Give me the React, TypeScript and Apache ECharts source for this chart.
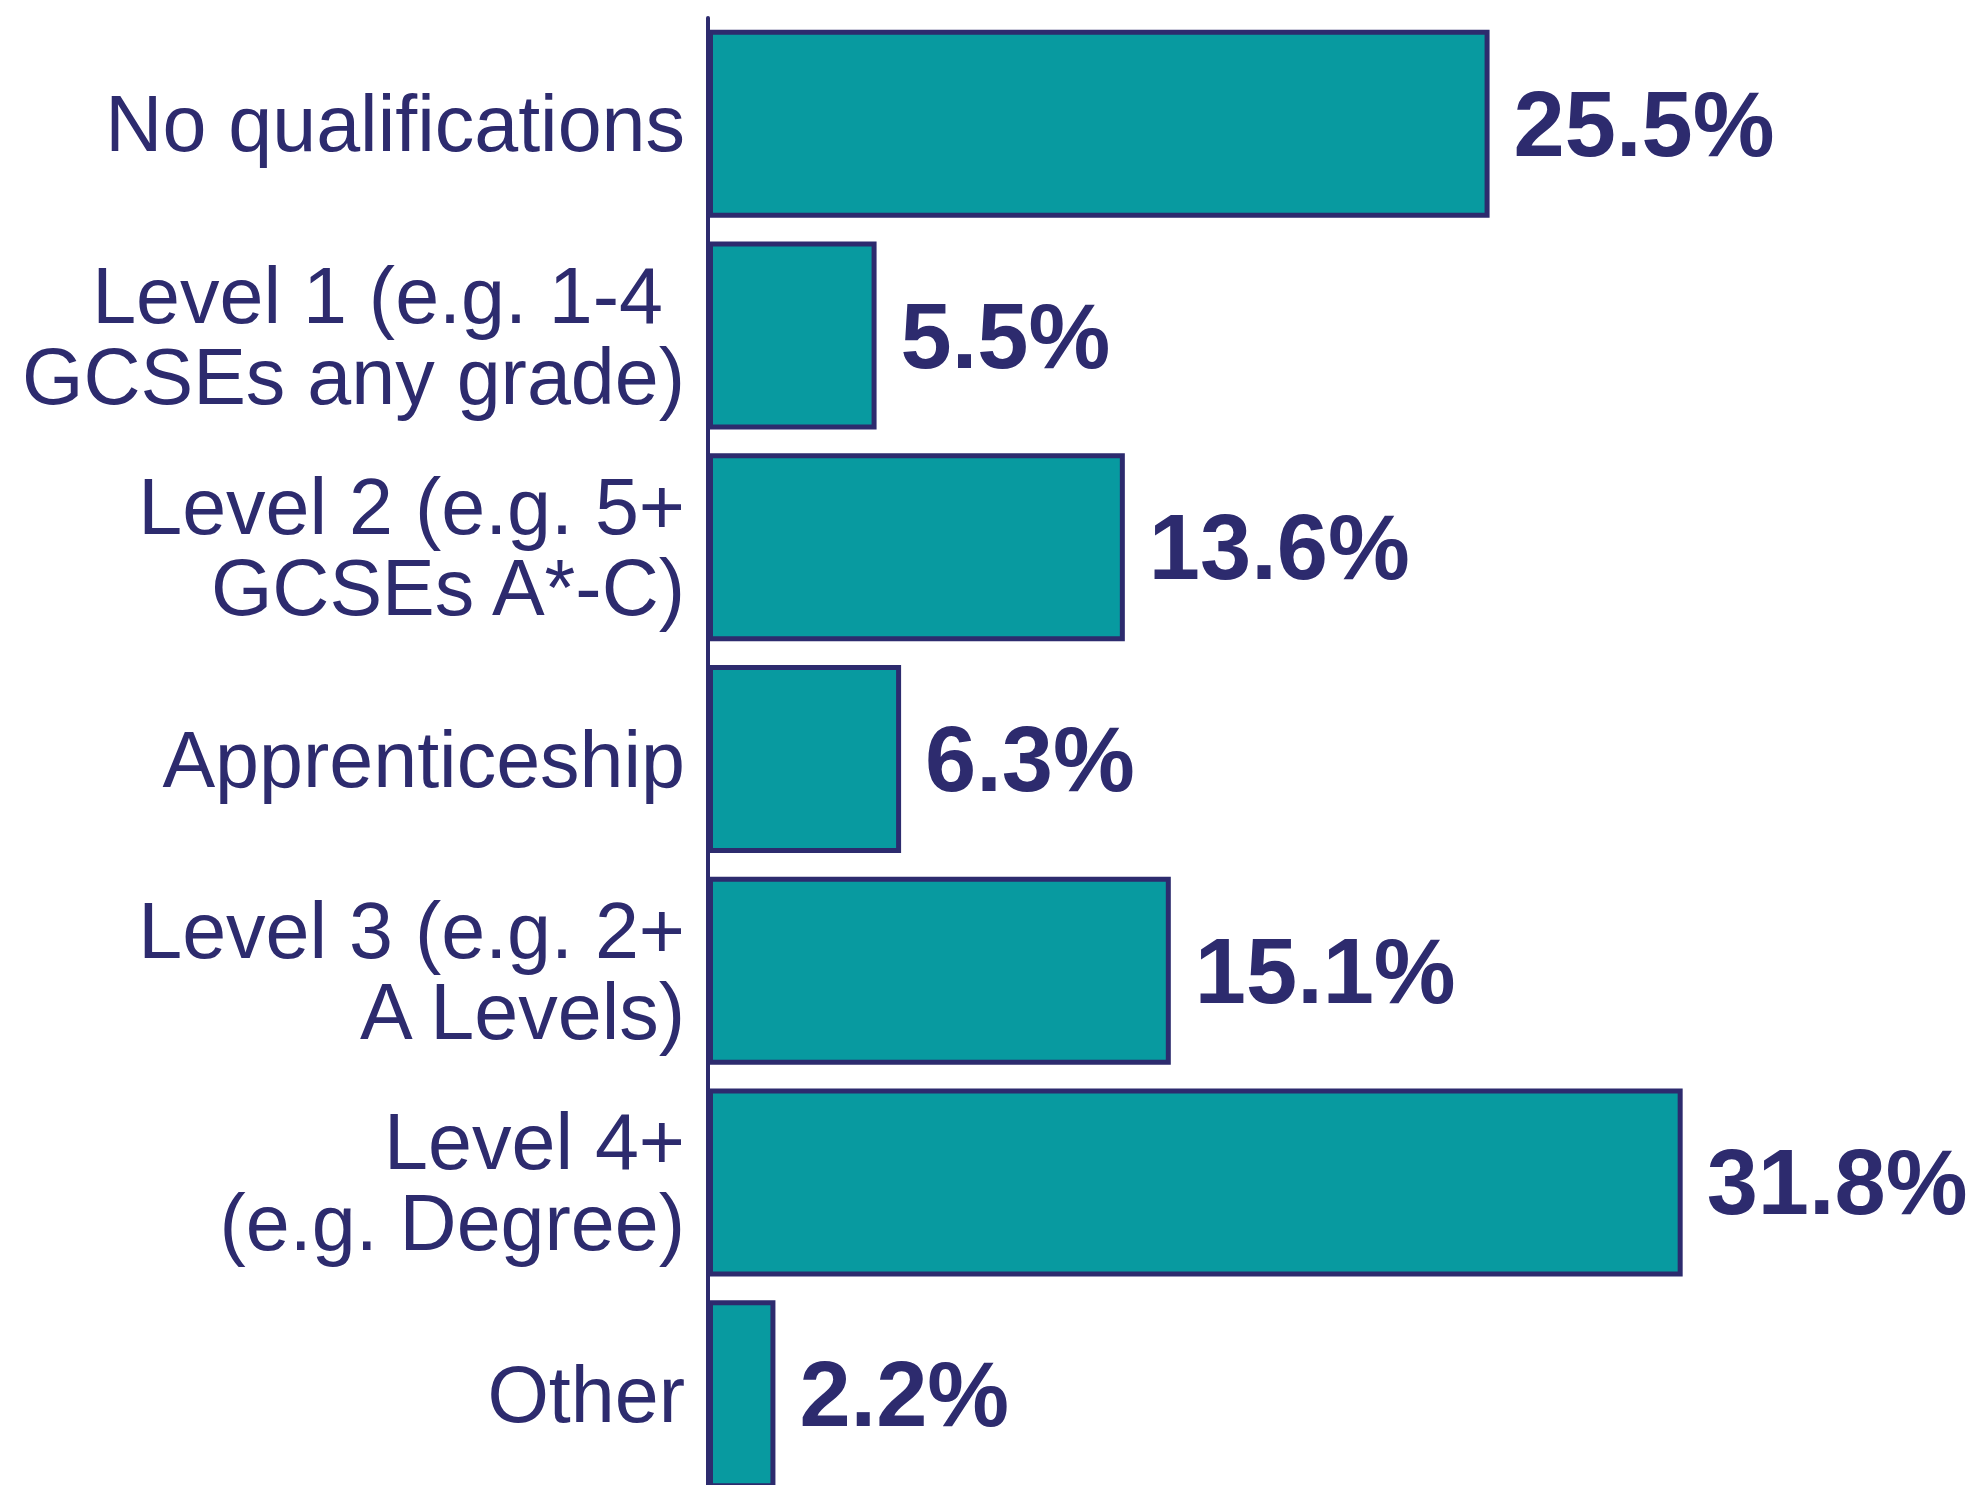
import React, { useEffect, useRef } from "react";
import * as echarts from "echarts";

const categories = [
  "No qualifications",
  "Level 1 (e.g. 1-4 \nGCSEs any grade)",
  "Level 2 (e.g. 5+\nGCSEs A*-C)",
  "Apprenticeship",
  "Level 3 (e.g. 2+\nA Levels)",
  "Level 4+\n(e.g. Degree)",
  "Other",
];
const values = [25.5, 5.5, 13.6, 6.3, 15.1, 31.8, 2.2];

const NAVY = "#2D2B6E";
const TEAL = "#089AA0";

export default function App() {
  const ref = useRef<HTMLDivElement>(null);
  useEffect(() => {
    document.body.style.margin = "0";
    document.body.style.overflow = "hidden";
    if (!ref.current) return;
    const chart = echarts.init(ref.current, undefined, { renderer: "svg" });
    chart.setOption({
      animation: false,
      backgroundColor: "#ffffff",
      grid: { left: 708, right: 45, top: 18, bottom: 0, containLabel: false },
      xAxis: {
        type: "value",
        min: 0,
        max: 40,
        show: false,
      },
      yAxis: {
        type: "category",
        data: categories,
        inverse: true,
        axisTick: { show: false },
        axisLine: { show: true, lineStyle: { color: NAVY, width: 4 } },
        splitLine: { show: false },
        axisLabel: {
          color: NAVY,
          fontFamily: "Liberation Sans, Arial, sans-serif",
          fontSize: 79,
          lineHeight: 81,
          margin: 23,
          align: "right",
          padding: [0, 0, 8, 0],
        },
      },
      series: [
        {
          type: "bar",
          data: values,
          barWidth: 188,
          itemStyle: { color: TEAL, borderColor: NAVY, borderWidth: 5 },
          label: {
            show: true,
            position: "right",
            distance: 24,
            color: NAVY,
            fontFamily: "Liberation Sans, Arial, sans-serif",
            fontWeight: "bold",
            fontSize: 92,
            formatter: (p: any) => `${Number(p.value).toFixed(1)}%`,
          },
        },
      ],
    });
    return () => chart.dispose();
  }, []);
  return (
    <div
      ref={ref}
      style={{ position: "fixed", left: 0, top: 0, width: 1979, height: 1500, background: "#fff" }}
    />
  );
}
